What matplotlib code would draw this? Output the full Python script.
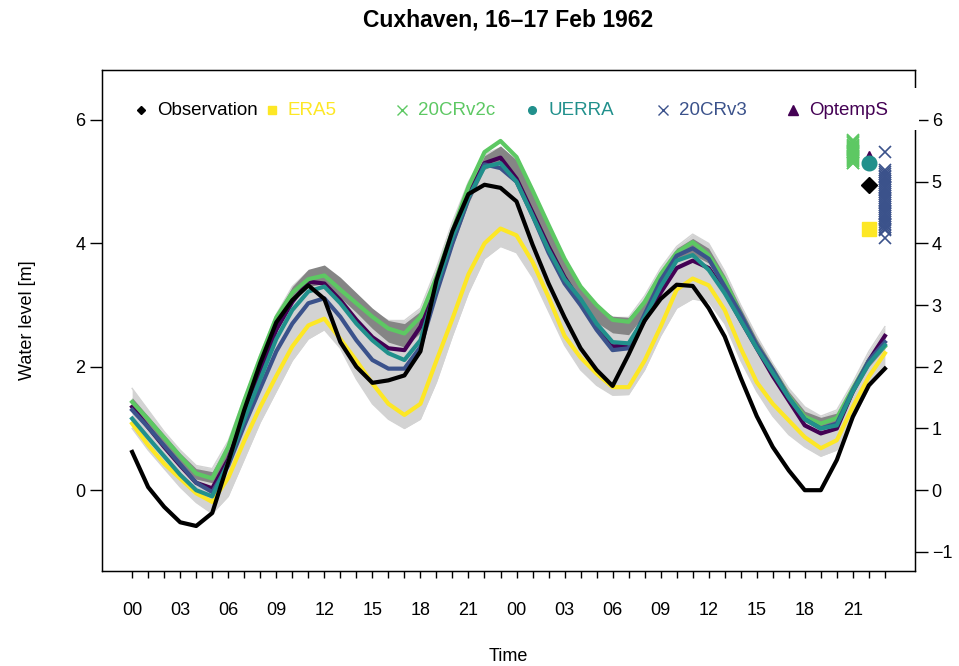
import numpy as np
import matplotlib
matplotlib.use("Agg")
import matplotlib.pyplot as plt
from matplotlib.patches import Rectangle

plt.rcParams['font.family'] = ['Liberation Sans', 'DejaVu Sans']

# -----------------------------
# Data (hourly water level, m)
# -----------------------------
hours = np.arange(48)
tick_hours = hours[::3]
tick_labels = ["00", "03", "06", "09", "12", "15", "18", "21"] * 2

obs = [0.62, 0.05, -0.27, -0.52, -0.58, -0.37, 0.45, 1.30, 2.06, 2.72, 3.08, 3.32,
       3.10, 2.40, 2.00, 1.74, 1.78, 1.86, 2.25, 3.40, 4.20, 4.80, 4.95, 4.90,
       4.68, 3.98, 3.35, 2.80, 2.30, 1.95, 1.69, 2.20, 2.75, 3.10, 3.33, 3.31,
       2.95, 2.49, 1.82, 1.20, 0.70, 0.32, 0.00, 0.00, 0.49, 1.19, 1.70, 1.97]
era5 = [1.08, 0.73, 0.43, 0.19, -0.05, -0.19, 0.20, 0.80, 1.35, 1.85, 2.33, 2.67,
        2.78, 2.45, 2.10, 1.73, 1.40, 1.22, 1.40, 2.10, 2.78, 3.50, 4.00, 4.24,
        4.13, 3.70, 3.13, 2.50, 2.15, 1.89, 1.67, 1.67, 2.10, 2.65, 3.25, 3.43,
        3.32, 2.92, 2.30, 1.75, 1.40, 1.13, 0.86, 0.68, 0.81, 1.35, 1.84, 2.22]
cr2c = [1.43, 1.15, 0.85, 0.55, 0.27, 0.19, 0.70, 1.45, 2.15, 2.80, 3.20, 3.42,
        3.48, 3.25, 3.03, 2.81, 2.62, 2.54, 2.81, 3.45, 4.20, 4.92, 5.48, 5.66,
        5.40, 4.86, 4.30, 3.75, 3.30, 3.00, 2.76, 2.73, 3.05, 3.50, 3.85, 4.02,
        3.81, 3.40, 2.85, 2.35, 1.95, 1.52, 1.19, 1.08, 1.17, 1.65, 2.10, 2.33]
uerra = [1.16, 0.85, 0.55, 0.25, 0.00, -0.10, 0.45, 1.15, 1.80, 2.45, 2.92, 3.22,
         3.30, 3.03, 2.70, 2.43, 2.22, 2.11, 2.43, 3.30, 4.10, 4.75, 5.24, 5.30,
         5.00, 4.45, 3.90, 3.42, 3.10, 2.70, 2.40, 2.38, 2.80, 3.30, 3.72, 3.81,
         3.57, 3.19, 2.75, 2.30, 1.90, 1.50, 1.15, 1.00, 1.05, 1.60, 2.05, 2.35]
cr3 = [1.30, 1.02, 0.72, 0.42, 0.12, -0.03, 0.40, 1.05, 1.65, 2.25, 2.70, 3.03,
       3.11, 2.81, 2.43, 2.11, 1.97, 1.97, 2.32, 3.19, 4.00, 4.72, 5.28, 5.22,
       5.00, 4.45, 3.85, 3.35, 3.00, 2.60, 2.27, 2.30, 2.85, 3.40, 3.80, 3.92,
       3.75, 3.30, 2.85, 2.35, 1.95, 1.50, 1.15, 1.00, 1.08, 1.62, 2.10, 2.40]
optemps = [1.35, 1.02, 0.70, 0.40, 0.12, 0.03, 0.50, 1.20, 1.90, 2.60, 3.05, 3.38,
           3.35, 3.08, 2.76, 2.48, 2.30, 2.27, 2.65, 3.35, 4.10, 4.80, 5.30, 5.39,
           5.05, 4.50, 3.95, 3.45, 3.05, 2.65, 2.33, 2.35, 2.75, 3.20, 3.60, 3.72,
           3.60, 3.22, 2.75, 2.30, 1.85, 1.45, 1.05, 0.92, 1.00, 1.60, 2.10, 2.50]

# ensemble spread (lowest / highest member)
cr3_ens_lo = [1.00, 0.65, 0.35, 0.05, -0.20, -0.38, -0.10, 0.50, 1.10, 1.60, 2.10, 2.45,
              2.60, 2.30, 1.80, 1.40, 1.15, 1.00, 1.15, 1.75, 2.50, 3.20, 3.75, 3.95,
              3.85, 3.45, 2.90, 2.35, 1.95, 1.70, 1.54, 1.55, 1.95, 2.50, 2.95, 3.10,
              3.05, 2.70, 2.10, 1.60, 1.20, 0.90, 0.70, 0.55, 0.65, 1.15, 1.65, 2.00]
cr3_ens_hi = [1.65, 1.30, 0.95, 0.65, 0.40, 0.35, 0.80, 1.50, 2.20, 2.85, 3.30, 3.55,
              3.60, 3.40, 3.15, 2.90, 2.75, 2.75, 2.95, 3.60, 4.35, 5.00, 5.45, 5.55,
              5.35, 4.85, 4.30, 3.75, 3.30, 3.00, 2.80, 2.80, 3.15, 3.60, 3.95, 4.15,
              4.00, 3.55, 3.00, 2.50, 2.05, 1.65, 1.35, 1.20, 1.30, 1.75, 2.25, 2.65]
cr2c_ens_lo = [1.30, 1.00, 0.70, 0.42, 0.18, 0.12, 0.55, 1.30, 1.95, 2.60, 3.05, 3.30,
               3.35, 3.12, 2.88, 2.62, 2.40, 2.32, 2.55, 3.20, 3.95, 4.65, 5.20, 5.30,
               5.05, 4.50, 3.95, 3.42, 3.02, 2.72, 2.55, 2.52, 2.85, 3.30, 3.70, 3.82,
               3.68, 3.25, 2.75, 2.28, 1.85, 1.45, 1.12, 1.02, 1.08, 1.55, 2.00, 2.30]
cr2c_ens_hi = [1.50, 1.20, 0.90, 0.60, 0.35, 0.30, 0.75, 1.50, 2.20, 2.85, 3.30, 3.58,
               3.65, 3.45, 3.20, 2.95, 2.75, 2.70, 2.90, 3.50, 4.20, 4.90, 5.42, 5.58,
               5.35, 4.82, 4.25, 3.72, 3.28, 2.98, 2.82, 2.80, 3.10, 3.55, 3.92, 4.08,
               3.92, 3.48, 2.95, 2.45, 2.02, 1.60, 1.28, 1.18, 1.25, 1.70, 2.15, 2.45]

# peak water level of every ensemble member
cr2c_peaks = [5.68, 5.66, 5.64, 5.62, 5.60, 5.58, 5.57, 5.55, 5.53, 5.52, 5.50, 5.48,
              5.47, 5.45, 5.43, 5.42, 5.40, 5.38, 5.36, 5.35, 5.33, 5.31, 5.30]
cr3_peaks = [5.48, 5.19, 5.16, 5.13, 5.10, 5.07, 5.04, 5.01, 4.98, 4.95, 4.92, 4.89,
             4.86, 4.83, 4.80, 4.77, 4.74, 4.71, 4.68, 4.65, 4.62, 4.59, 4.56, 4.53,
             4.50, 4.47, 4.44, 4.41, 4.38, 4.35, 4.32, 4.29, 4.26, 4.23, 4.21, 4.08]

# -----------------------------
# Styles
# -----------------------------
C_OBS = "black"
C_ERA5 = "#FDE725"
C_2C = "#5DC863"
C_UERRA = "#21908C"
C_V3 = "#3B528B"
C_OPT = "#440154"
C_LIGHT = "#D3D3D3"
C_DARK = "#858585"

fig = plt.figure(figsize=(9.59, 6.66), dpi=100)
ax = fig.add_axes([0.1064, 0.1426, 0.8477, 0.7523])

ax.fill_between(hours, cr3_ens_lo, cr3_ens_hi, color=C_LIGHT, lw=0, zorder=1)
ax.plot(hours, cr3_ens_lo, color=C_LIGHT, lw=1, zorder=1)
ax.plot(hours, cr3_ens_hi, color=C_LIGHT, lw=1, zorder=1)
ax.fill_between(hours, cr2c_ens_lo, cr2c_ens_hi, color=C_DARK, lw=0, zorder=2)

lw = 3.0
ax.plot(hours, optemps, color=C_OPT, lw=lw, zorder=3)
ax.plot(hours, era5, color=C_ERA5, lw=lw, zorder=3)
ax.plot(hours, cr2c, color=C_2C, lw=lw, zorder=3)
ax.plot(hours, cr3, color=C_V3, lw=lw, zorder=3)
ax.plot(hours, uerra, color=C_UERRA, lw=lw, zorder=3)
ax.plot(hours, obs, color=C_OBS, lw=lw, zorder=4)

# peak markers at the right end
x2c, xmid, xv3 = hours[-3], hours[-2], hours[-1]
ax.plot([x2c] * len(cr2c_peaks), cr2c_peaks, ls="none", marker="x", ms=8, mew=1.2,
        color=C_2C, zorder=5)
ax.plot([xv3] * len(cr3_peaks), cr3_peaks, ls="none", marker="x", ms=8, mew=1.2,
        color=C_V3, zorder=5)
ax.plot([xmid], [max(optemps)], ls="none", marker="^", ms=10, color=C_OPT, zorder=5)
ax.plot([xmid], [max(uerra)], ls="none", marker="o", ms=10.5, color=C_UERRA, zorder=6)
ax.plot([xmid], [max(obs)], ls="none", marker="D", ms=8, color=C_OBS, zorder=6)
ax.plot([xmid], [max(era5)], ls="none", marker="s", ms=9.5, color=C_ERA5, zorder=6)

# axes
ax.set_xlim(-1.88, 48.88)
ax.set_ylim(-1.31, 6.81)
ax.set_xticks(hours, minor=True)
ax.set_xticks(tick_hours)
ax.set_xticklabels(tick_labels)
ax.tick_params(axis="x", which="both", length=5, width=1, direction="out", pad=17,
               labelsize=13)
ax.set_yticks([0, 2, 4, 6])
ax.tick_params(axis="y", length=9, width=1, direction="out", pad=3, labelsize=13)
for s in ax.spines.values():
    s.set_linewidth(1)

ax2 = ax.twinx()
ax2.set_ylim(ax.get_ylim())
ax2.set_yticks(np.arange(-1, 7))
ax2.tick_params(axis="y", length=9, width=1, direction="out", pad=3, labelsize=13)
ax2.set_yticklabels(["\u22121", "0", "1", "2", "3", "4", "5", "6"])

ax.set_ylabel("Water level [m]", fontsize=13, labelpad=28)
ax.set_xlabel("Time", fontsize=13, labelpad=21)
ax.set_title("Cuxhaven, 16\u201317 Feb 1962", fontsize=16.5, fontweight="bold", pad=31)

# legend on a white band across the top
ax2.add_patch(Rectangle((0.03, 0.88), 0.975, 0.085, transform=ax.transAxes,
                        facecolor="white", edgecolor="none", clip_on=False, zorder=10))
leg_items = [("Observation", C_OBS, "D", 4.5), ("ERA5", C_ERA5, "s", 5.5),
             ("20CRv2c", C_2C, "x", 6.5), ("UERRA", C_UERRA, "o", 5.5),
             ("20CRv3", C_V3, "x", 6.5), ("OptempS", C_OPT, "^", 6.5)]
for i, (name, col, mk, size) in enumerate(leg_items):
    lx = 0.048 + i * 0.1605
    ax2.plot([lx], [0.92], transform=ax.transAxes, marker=mk, ms=size, mew=1,
             color=col, ls="none", clip_on=False, zorder=11)
    ax2.text(lx + 0.0195, 0.92, name, transform=ax.transAxes, color=col,
             fontsize=13.5, va="center", ha="left", zorder=11)

fig.savefig("out.png", dpi=100)
